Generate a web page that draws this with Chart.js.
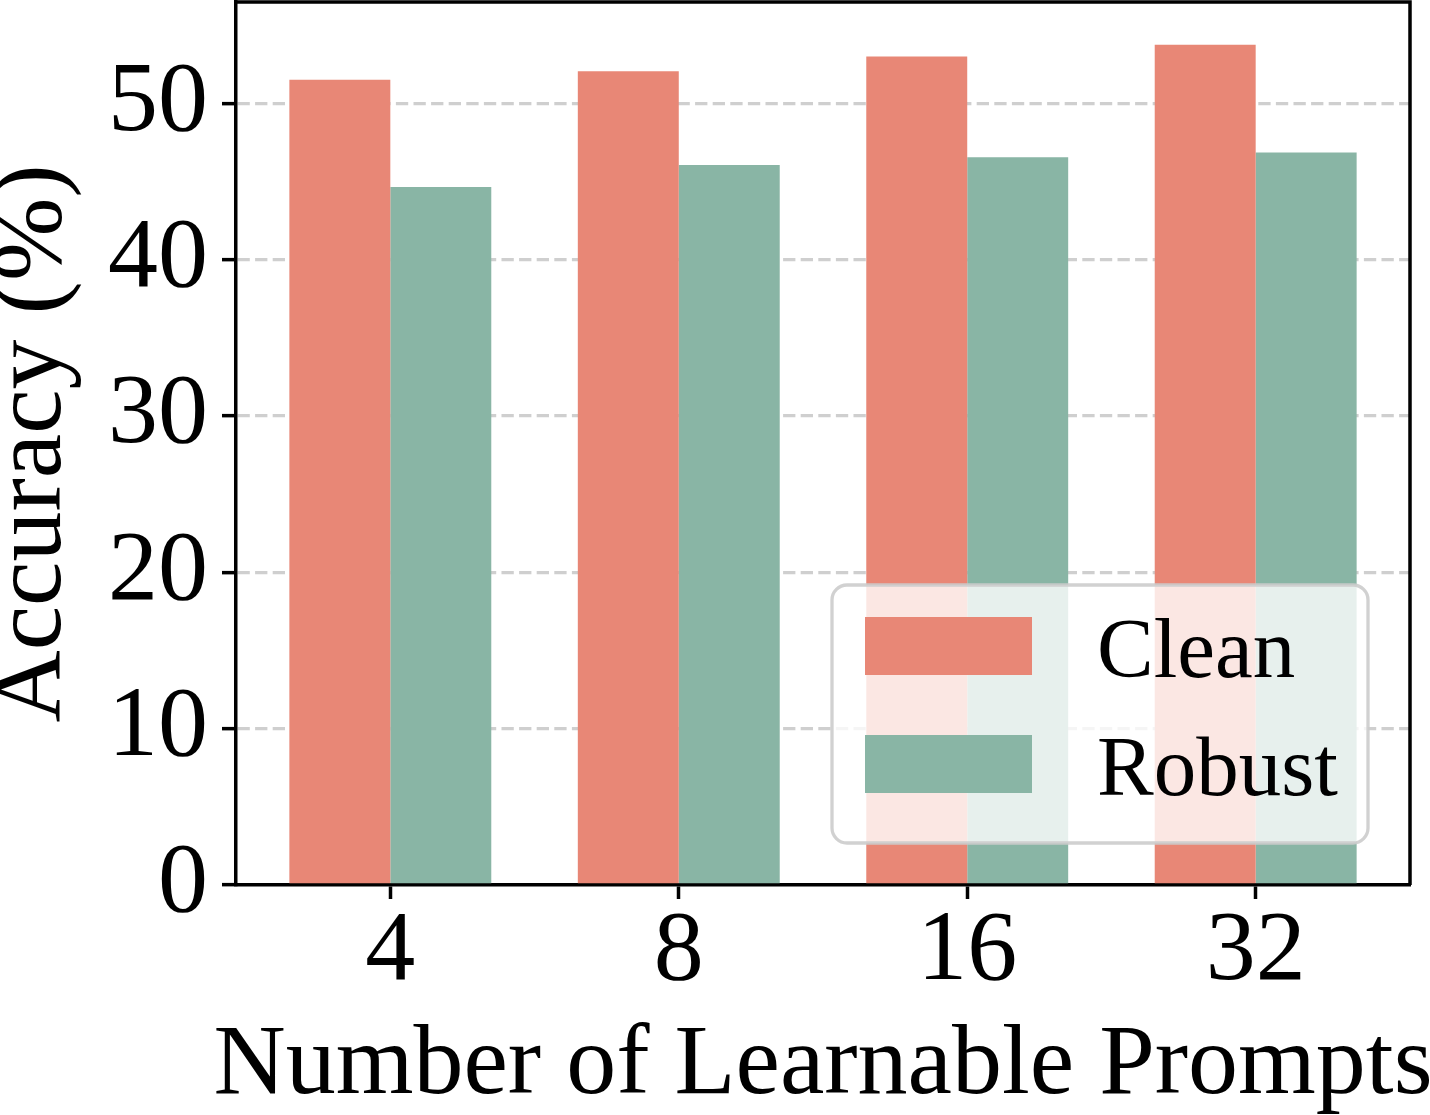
<!DOCTYPE html>
<html>
<head>
<meta charset="utf-8">
<script src="https://cdn.jsdelivr.net/npm/chart.js@4.4.1/dist/chart.umd.min.js"></script>
<style>
  html, body { margin: 0; padding: 0; background: #ffffff; }
  #wrap { width: 1430px; height: 1115px; position: relative; }
</style>
</head>
<body>
<div id="wrap"><canvas id="promptChart"></canvas></div>
<script>
// Data
const promptCounts = ['4', '8', '16', '32'];
const cleanAcc = [51.5, 52.05, 53.0, 53.75];
const robustAcc = [44.65, 46.05, 46.55, 46.85];
const yTicks = [0, 10, 20, 30, 40, 50];
const seriesNames = ['Clean', 'Robust'];
const xTitle = 'Number of Learnable Prompts';

const CLEAN_COLOR = '#E88776';
const ROBUST_COLOR = '#89B5A5';
const SERIF = "'Liberation Serif', 'Times New Roman', serif";

// Frame (top/right spines), x title (wider than the plot, so not clipped by Chart.js) and boxed legend
const frameAndLegend = {
    id: 'frameAndLegend',
    afterDraw(chart) {
        const { ctx, chartArea: a } = chart;
        ctx.save();
        ctx.strokeStyle = '#000';
        ctx.lineWidth = 3.5;
        ctx.beginPath();
        ctx.moveTo(a.left, a.top);
        ctx.lineTo(a.right, a.top);
        ctx.lineTo(a.right, a.bottom);
        ctx.stroke();

        // x axis title
        ctx.fillStyle = '#000';
        ctx.font = '100px ' + SERIF;
        ctx.textAlign = 'center';
        ctx.textBaseline = 'alphabetic';
        ctx.fillText(xTitle, (a.left + a.right) / 2, a.bottom + 208);

        // legend box
        const w = 536, h = 258;
        const x = a.right - 42 - w;
        const y = a.bottom - 42 - h;
        ctx.beginPath();
        ctx.roundRect(x, y, w, h, 15);
        ctx.fillStyle = 'rgba(255,255,255,0.8)';
        ctx.fill();
        ctx.strokeStyle = 'rgba(204,204,204,0.9)';
        ctx.lineWidth = 3.3;
        ctx.stroke();

        ctx.font = '85px ' + SERIF;
        ctx.textAlign = 'left';
        chart.data.datasets.forEach((ds, i) => {
            const hy = y + 32 + i * 118;
            ctx.fillStyle = ds.backgroundColor;
            ctx.fillRect(x + 33, hy, 167, 58);
            ctx.fillStyle = '#000';
            ctx.fillText(ds.label, x + 265, hy + 60);
        });
        ctx.restore();
    }
};

const ctx = document.getElementById('promptChart');
new Chart(ctx, {
    type: 'bar',
    data: {
        datasets: [{
            label: seriesNames[0],
            data: cleanAcc.map((v, i) => ({ x: i, y: v })),
            backgroundColor: CLEAN_COLOR,
            borderWidth: 0
        }, {
            label: seriesNames[1],
            data: robustAcc.map((v, i) => ({ x: i, y: v })),
            backgroundColor: ROBUST_COLOR,
            borderWidth: 0
        }]
    },
    options: {
        responsive: true,
        maintainAspectRatio: false,
        animation: false,
        categoryPercentage: 0.7,
        barPercentage: 1.0,
        layout: { padding: { top: 2, right: 20, left: 0, bottom: 0 } },
        plugins: {
            legend: { display: false },
            tooltip: { enabled: false }
        },
        scales: {
            x: {
                type: 'linear',
                bounds: 'data',
                min: -0.535,
                max: promptCounts.length - 1 + 0.535,
                offset: false,
                z: 1,
                afterBuildTicks: (scale) => {
                    scale.ticks = promptCounts.map((_, i) => ({ value: i }));
                },
                afterFit: (scale) => {
                    scale.height = 230;
                    scale.paddingLeft = 0;
                    scale.paddingRight = 0;
                },
                grid: {
                    offset: false,
                    drawOnChartArea: false,
                    drawTicks: true,
                    tickLength: 14,
                    tickWidth: 3.5,
                    tickColor: '#000'
                },
                border: { display: true, color: '#000', width: 3.5 },
                ticks: {
                    color: '#000',
                    padding: 4,
                    maxRotation: 0,
                    autoSkip: false,
                    font: { family: SERIF, size: 100, lineHeight: 1 },
                    callback: (value) => promptCounts[value]
                },
                title: { display: false }
            },
            y: {
                min: 0,
                max: 56.48,
                z: 1,
                afterBuildTicks: (scale) => {
                    scale.ticks = yTicks.map(v => ({ value: v }));
                },
                afterFit: (scale) => {
                    scale.width = 236;
                    scale.paddingTop = 0;
                    scale.paddingBottom = 0;
                },
                grid: {
                    color: (c) => (c.tick && c.tick.value === 0) ? 'rgba(0,0,0,0)' : 'rgba(160,160,160,0.5)',
                    lineWidth: 3.3,
                    drawTicks: true,
                    tickLength: 14,
                    tickWidth: 3.5,
                    tickColor: '#000'
                },
                border: { display: true, color: '#000', width: 3.5, dash: [12.3, 5.3] },
                ticks: {
                    color: '#000',
                    padding: 14,
                    font: { family: SERIF, size: 100, lineHeight: 1 }
                },
                title: {
                    display: true,
                    text: 'Accuracy (%)',
                    color: '#000',
                    padding: { top: -16, bottom: 0 },
                    font: { family: SERIF, size: 100, lineHeight: 1 }
                }
            }
        }
    },
    plugins: [frameAndLegend]
});
</script>
</body>
</html>
